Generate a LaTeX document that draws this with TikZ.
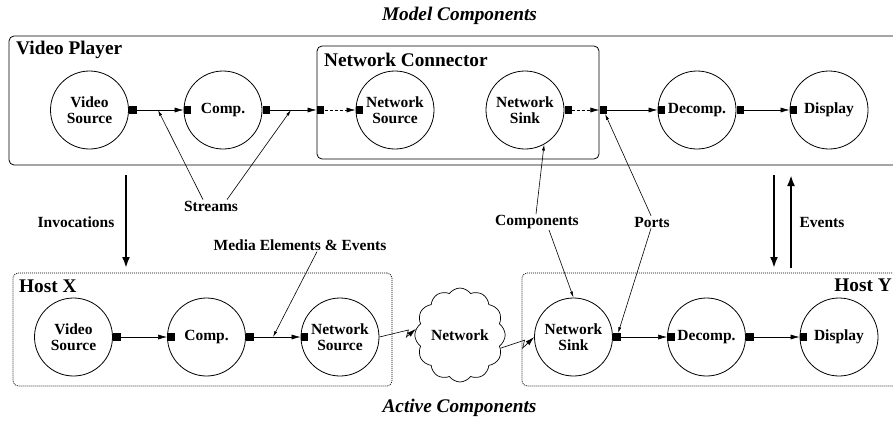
\documentclass[tikz,border=0pt]{standalone}
\usepackage{fontspec}
\setmainfont{Liberation Serif}
\usetikzlibrary{arrows.meta,calc,shapes.symbols}
\newcommand{\lbl}{\fontsize{15.5}{15.5}\selectfont\bfseries}
\newcommand{\ttl}{\fontsize{19.3}{21}\selectfont\bfseries}
\tikzset{
	comp/.style={circle, draw, line width=0.8pt, minimum size=78pt, inner sep=0pt, align=center, font=\lbl},
	port/.style={fill, rectangle, minimum size=7.5pt, inner sep=0pt},
	stream/.style={line width=0.6pt, -{Latex[length=9pt,width=5pt]}},
	note/.style={line width=0.6pt, -{Latex[length=6pt,width=3pt]}},
	flow/.style={line width=2.5pt, -{Latex[length=11pt,width=8pt]}},
	hostbox/.style={draw, rounded corners=5pt, line width=0.7pt, dash pattern=on 1pt off 1pt},
	lab/.style={font=\lbl, inner sep=1pt}
}

\begin{document}
\begin{tikzpicture}[x=1pt,y=-1pt]
			%%%%% START %%%%%
			\useasboundingbox (0,0) rectangle (893,421);
			\clip (0,0) rectangle (893,421);
			
			\node[font=\ttl\itshape] (model) at (459.5,16) {Model Components};
			\node[font=\ttl\itshape] (active) at (459.5,408) {Active Components};
			
			% model boxes
			\node[draw, rounded corners=5pt, line width=0.8pt, minimum width=891pt, minimum height=129pt] (player) at (454.5,100.5) {};
			\node[font=\ttl, anchor=west, inner sep=0pt] (playerLbl) at (16,50) {Video Player};
			\node[draw, rounded corners=5pt, line width=0.8pt, minimum width=282pt, minimum height=113pt] (conn) at (458,102.5) {};
			\node[font=\ttl, anchor=west, inner sep=0pt] (connLbl) at (324,60) {Network Connector};
			
			\node[comp] (vsM) at (89.5,110) {Video\\Source};
			\node[comp] (cpM) at (223,110) {Comp.};
			\node[comp] (nsrcM) at (395,110) {Network\\Source};
			\node[comp] (nsinkM) at (525,110) {Network\\Sink};
			\node[comp] (decM) at (697,110) {Decomp.};
			\node[comp] (dispM) at (829,110) {Display};
			
			\node[port, anchor=west] (vsOutM) at (vsM.east) {};
			\node[port, anchor=west] (cpInM) at (cpM.west) {};
			\node[port, anchor=west] (cpOutM) at (cpM.east) {};
			\node[port, anchor=west] (ncIn) at (conn.west |- cpM) {};
			\node[port, anchor=west] (nsrcInM) at (nsrcM.west) {};
			\node[port, anchor=west] (nsinkOutM) at (nsinkM.east) {};
			\node[port, anchor=west] (ncOut) at (conn.east |- cpM) {};
			\node[port, anchor=west] (decInM) at (decM.west) {};
			\node[port, anchor=west] (decOutM) at (decM.east) {};
			\node[port, anchor=west] (dispInM) at (dispM.west) {};
			
			\draw[stream] (vsOutM) -- (cpInM);
			\draw[stream] (cpOutM) -- (ncIn);
			\draw[stream, dash pattern=on 3pt off 2pt] (ncIn) -- (nsrcInM);
			\draw[stream, dash pattern=on 3pt off 2pt] (nsinkOutM) -- (ncOut);
			\draw[stream] (ncOut) -- (decInM);
			\draw[stream] (decOutM) -- (dispInM);
			
			% host boxes
			\node[hostbox, minimum width=379pt, minimum height=113pt] (hostX) at (202.5,329.5) {};
			\node[font=\ttl, anchor=west, inner sep=0pt] (hostXLbl) at (19,286) {Host X};
			\node[hostbox, minimum width=383pt, minimum height=113pt] (hostY) at (713.5,329.5) {};
			\node[font=\ttl, anchor=east, inner sep=0pt] (hostYLbl) at (892,285) {Host Y};
			
			\node[comp] (vsH) at (73.5,337) {Video\\Source};
			\node[comp] (cpH) at (206.5,337) {Comp.};
			\node[comp] (nsrcH) at (340,337) {Network\\Source};
			\node[comp] (nsinkH) at (573.5,337) {Network\\Sink};
			\node[comp] (decH) at (706.5,337) {Decomp.};
			\node[comp] (dispH) at (839,337) {Display};
			
			\node[port, anchor=west] (vsOutH) at (vsH.east) {};
			\node[port, anchor=west] (cpInH) at (cpH.west) {};
			\node[port, anchor=west] (cpOutH) at (cpH.east) {};
			\node[port, anchor=west] (nsrcInH) at (nsrcH.west) {};
			\node[port, anchor=west] (nsinkOutH) at (nsinkH.east) {};
			\node[port, anchor=west] (decInH) at (decH.west) {};
			\node[port, anchor=west] (decOutH) at (decH.east) {};
			\node[port, anchor=west] (dispInH) at (dispH.west) {};
			
			\draw[stream] (vsOutH) -- (cpInH);
			\draw[stream] (cpOutH) -- (nsrcInH);
			\draw[stream] (nsinkOutH) -- (decInH);
			\draw[stream] (decOutH) -- (dispInH);
			
			% network
			\node[cloud, draw, line width=0.7pt, cloud puffs=12, cloud puff arc=110, aspect=0.95, minimum width=72pt, minimum height=76pt, inner sep=0pt, font=\lbl] (net) at (460,335) {Network};
			\draw[stream] (nsrcH.east) -- ++(29,-7) -- ++(-2,7) -- (net.172);
			\draw[stream] (net.-18) -- ++(24,-8) -- ++(-2,8) -- (nsinkH.west);
			
			% labels
			\coordinate (s1) at (158,110);
			\coordinate (s2) at (291,110);
			\coordinate (s3) at (273,337);
			\node[lab] (strLbl) at (211,206) {Streams};
			\draw[note] ($(strLbl.north)+(-8,0)$) -- (s1);
			\draw[note] ($(strLbl.north)+(16,0)$) -- (s2);
			\node[lab] (medLbl) at (300,245) {Media Elements \& Events};
			\draw[note] ($(medLbl.south)+(17,0)$) -- (s3);
			\node[lab] (cmpLbl) at (537,222) {Components};
			\draw[note] ($(cmpLbl.north)+(-1,0)$) -- (nsinkM.-61);
			\draw[note] ($(cmpLbl.south)+(12,0)$) -- (nsinkH.north);
			\node[lab] (prtLbl) at (652,222) {Ports};
			\draw[note] ($(prtLbl.north)+(-1,0)$) -- (ncOut);
			\draw[note] ($(prtLbl.south)+(-1,0)$) -- (nsinkOutH);
			
			\node[lab] (invLbl) at (76,222) {Invocations};
			\coordinate (inv0) at (126,175);
			\coordinate (inv1) at (126,268);
			\draw[flow] (inv0) -- (inv1);
			
			\node[lab] (evtLbl) at (822,222) {Events};
			\coordinate (evd0) at (774,175);
			\coordinate (evd1) at (774,268);
			\coordinate (evu0) at (791,268);
			\coordinate (evu1) at (791,175);
			\draw[flow] (evd0) -- (evd1);
			\draw[flow] (evu0) -- (evu1);
			
			%%%%% END %%%%%
		\end{tikzpicture}
\end{document}
